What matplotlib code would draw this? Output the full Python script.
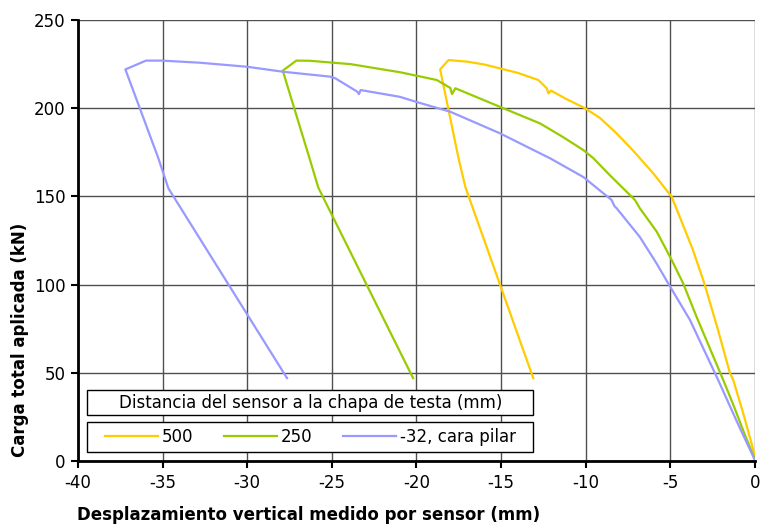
import matplotlib.pyplot as plt
from matplotlib.patches import Rectangle

plt.rcParams['axes.unicode_minus'] = False

# Load-displacement curves
x_500 = [0, -0.69, -1.28, -1.48, -2.2, -3.0, -3.66, -4.3, -4.92, -6.0, -7.2, -8.2,
         -9.16, -10.04, -11.2, -12.05, -12.2, -12.3, -12.8, -14.0, -15.07, -16.0,
         -17.0, -18.1, -18.6, -17.5, -17.1, -13.1]
y_500 = [3, 27, 45.9, 50, 75, 101, 119.6, 135, 149.8, 163, 176, 186,
         194.5, 200, 205.5, 210, 208.4, 211.3, 216, 220, 222.6, 224.8,
         226.4, 227.3, 222, 171, 155, 47]

x_250 = [0, -0.6, -1.2, -1.87, -3.45, -4.24, -4.92, -5.8, -6.8, -7.09, -8.57,
         -9.54, -10.14, -11.4, -12.7, -15.07, -17.7, -17.9, -18.0, -18.8, -20.97,
         -23.9, -26.3, -27.1, -27.9, -26.3, -25.8, -20.2]
y_250 = [1, 15, 30, 45.9, 81.8, 100.7, 114, 130, 143.3, 148, 162,
         171.6, 176.3, 184, 191.4, 200.8, 211.3, 208, 211.5, 216, 220.4,
         225, 226.9, 227, 221.3, 171, 155, 47]

x_32 = [0, -1.0, -2.17, -3.84, -5.02, -5.81, -6.8, -8.17, -8.3, -8.47,
        -10.14, -12.1, -15.07, -18.0, -19.8, -21.0, -23.3, -23.4, -23.5, -24.8,
        -25.1, -27.9, -30.0, -32.8, -35.05, -35.98, -37.2, -35.25, -34.66, -27.65]
y_32 = [0.5, 21, 45.9, 80, 99, 112, 127, 143.3, 144.5, 148,
        161, 171.6, 185.8, 198, 203, 206.5, 210.3, 208, 209.4, 217,
        217.9, 220.7, 223.5, 225.8, 227, 227, 222, 171.6, 154.6, 47]

labels = ['500', '250', '-32, cara pilar']
colors = ['#FFCC00', '#99CC00', '#9999FF']

fig = plt.figure(figsize=(7.61, 5.27), dpi=100)
ax = fig.add_axes([0.1025, 0.1252, 0.8895, 0.8368])

ax.plot(x_500, y_500, color=colors[0], lw=1.6, label=labels[0])
ax.plot(x_250, y_250, color=colors[1], lw=1.6, label=labels[1])
ax.plot(x_32, y_32, color=colors[2], lw=1.6, label=labels[2])

ax.set_xlim(-40, 0)
ax.set_ylim(0, 250)
ax.set_xticks(range(-40, 1, 5))
ax.set_yticks(range(0, 251, 50))
ax.grid(True, color='#505050', lw=1)
ax.set_axisbelow(True)
for side in ['top', 'right']:
    ax.spines[side].set_visible(False)
for side in ['left', 'bottom']:
    ax.spines[side].set_linewidth(2)
    ax.spines[side].set_zorder(5)
ax.tick_params(direction='out', length=5, width=1.5, labelsize=12, pad=4)

ax.set_xlabel('Desplazamiento vertical medido por sensor (mm)', fontsize=12,
              fontweight='bold', va='center')
ax.set_ylabel('Carga total aplicada (kN)', fontsize=12, fontweight='bold', va='center')
ax.xaxis.set_label_coords(0.34, -0.1224)
ax.yaxis.set_label_coords(-0.0857, 0.274)

# legend: title box + entries box
bx, bw = 0.1147, 0.586
ax.add_patch(Rectangle((bx, 0.2125), bw, 0.0474, transform=fig.transFigure,
                       facecolor='white', edgecolor='black', lw=1, zorder=10, clip_on=False))
ax.text(bx + bw / 2, 0.2125 + 0.0474 / 2, 'Distancia del sensor a la chapa de testa (mm)',
        transform=fig.transFigure, ha='center', va='center', fontsize=12, zorder=11)
ax.add_patch(Rectangle((bx, 0.1429), bw, 0.0569, transform=fig.transFigure,
                       facecolor='white', edgecolor='black', lw=1, zorder=10, clip_on=False))
leg = ax.legend(loc='center', bbox_to_anchor=(bx + bw / 2, 0.1429 + 0.0569 / 2),
                bbox_transform=fig.transFigure, ncol=3, fontsize=12, frameon=False,
                borderaxespad=0, handlelength=3.2, handletextpad=0.2,
                columnspacing=1.85, borderpad=0.3)
leg.set_zorder(12)

fig.savefig('out.png', dpi=100)
